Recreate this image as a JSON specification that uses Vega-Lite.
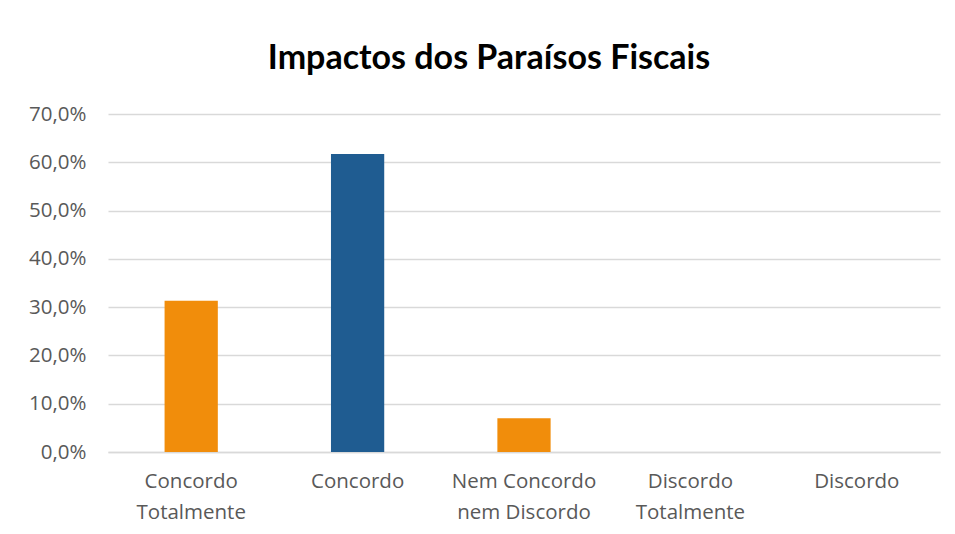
{
  "$schema": "https://vega.github.io/schema/vega-lite/v6.json",
  "width": 832,
  "height": 338,
  "autosize": "none",
  "padding": {"left": 108, "top": 114, "right": 15, "bottom": 82},
  "background": "white",
  "title": {
    "text": "Impactos dos Paraísos Fiscais",
    "font": "Lato",
    "fontSize": 34,
    "fontWeight": "bold",
    "color": "#000000",
    "anchor": "middle",
    "dx": -35,
    "offset": 28
  },
  "data": {
    "values": [
      {"resposta": "Concordo|Totalmente", "pct": 31.3, "grupo": "a"},
      {"resposta": "Concordo", "pct": 61.7, "grupo": "b"},
      {"resposta": "Nem Concordo|nem Discordo", "pct": 7.0, "grupo": "a"},
      {"resposta": "Discordo|Totalmente", "pct": 0, "grupo": "a"},
      {"resposta": "Discordo", "pct": 0, "grupo": "a"}
    ]
  },
  "mark": {"type": "bar"},
  "encoding": {
    "x": {
      "field": "resposta",
      "type": "nominal",
      "sort": null,
      "scale": {"paddingInner": 0.68, "paddingOuter": 0.34},
      "axis": {
        "title": null,
        "labelAngle": 0,
        "labelExpr": "split(datum.label, '|')",
        "labelFont": "Open Sans",
        "labelFontSize": 20.5,
        "labelColor": "#595959",
        "labelLineHeight": 31,
        "labelPadding": 19,
        "labelBaseline": "top",
        "ticks": false,
        "domainColor": "#d9d9d9",
        "domainWidth": 1.5
      }
    },
    "y": {
      "field": "pct",
      "type": "quantitative",
      "scale": {"domain": [0, 70], "nice": false},
      "axis": {
        "title": null,
        "values": [0, 10, 20, 30, 40, 50, 60, 70],
        "labelExpr": "replace(format(datum.value, '.1f'), '.', ',') + '%'",
        "labelFont": "Open Sans",
        "labelFontSize": 20.5,
        "labelColor": "#595959",
        "labelPadding": 22,
        "ticks": false,
        "domain": false,
        "gridColor": "#d9d9d9",
        "gridWidth": 1.5
      }
    },
    "color": {
      "field": "grupo",
      "type": "nominal",
      "scale": {"domain": ["a", "b"], "range": ["#F18D0B", "#1F5C91"]},
      "legend": null
    }
  },
  "config": {"view": {"stroke": null}}
}
